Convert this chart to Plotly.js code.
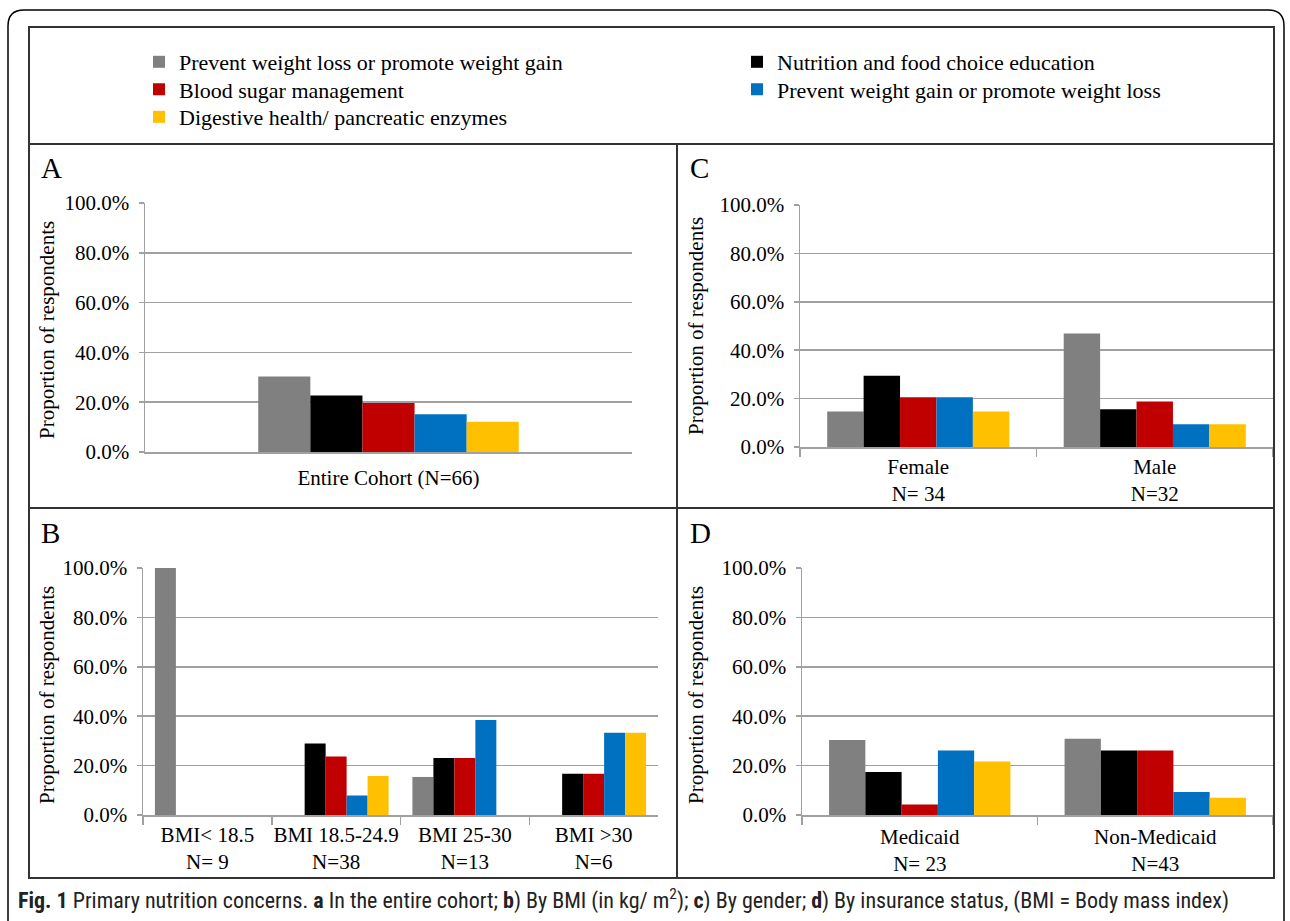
<!DOCTYPE html>
<html>
<head>
<meta charset="utf-8">
<script src="https://cdn.plot.ly/plotly-3.0.1.min.js"></script>
<style>
  html, body { margin: 0; padding: 0; background: #fff; }
  #chart { width: 1290px; height: 921px; }
</style>
</head>
<body>
<div id="chart"></div>
<script>
// ---------------- DATA ----------------
const seriesNames = [
  "Prevent weight loss or promote weight gain",
  "Nutrition and food choice education",
  "Blood sugar management",
  "Prevent weight gain or promote weight loss",
  "Digestive health/ pancreatic enzymes"
];
const seriesColors = ["#808080", "#000000", "#C00000", "#0070C0", "#FFC000"];

// Panel A: entire cohort
const catsA = ["Entire Cohort (N=66)"];
const weightGainA = [30.3];
const nutritionA  = [22.7];
const bloodSugarA = [19.7];
const weightLossA = [15.2];
const digestiveA  = [12.1];

// Panel B: by BMI
const catsB = ["BMI< 18.5<br>N= 9", "BMI 18.5-24.9<br>N=38", "BMI 25-30<br>N=13", "BMI >30<br>N=6"];
const weightGainB = [100, 0, 15.4, 0];
const nutritionB  = [0, 28.9, 23.1, 16.7];
const bloodSugarB = [0, 23.7, 23.1, 16.7];
const weightLossB = [0, 7.9, 38.5, 33.3];
const digestiveB  = [0, 15.8, 0, 33.3];

// Panel C: by gender
const catsC = ["Female<br>N= 34", "Male<br>N=32"];
const weightGainC = [14.7, 46.9];
const nutritionC  = [29.4, 15.6];
const bloodSugarC = [20.6, 18.8];
const weightLossC = [20.6, 9.4];
const digestiveC  = [14.7, 9.4];

// Panel D: by insurance status
const catsD = ["Medicaid<br>N= 23", "Non-Medicaid<br>N=43"];
const weightGainD = [30.4, 30.9];
const nutritionD  = [17.4, 26.1];
const bloodSugarD = [4.3, 26.1];
const weightLossD = [26.1, 9.3];
const digestiveD  = [21.7, 7.0];

const yTickVals = [0, 20, 40, 60, 80, 100];
const yTitle = "Proportion of respondents";

// ---------------- LAYOUT HELPERS ----------------
const W = 1290, H = 921;
const fx = v => v / W;
const fy = v => 1 - v / H;
const SERIF = '"Liberation Serif", "Times New Roman", serif';

// one legend box per legend entry (two-column legend of the reference)
const legendIds = ["legend", "legend2", "legend3", "legend4", "legend5"];
const legendPos = [[139, 62], [737, 62], [139, 89.5], [737, 89.5], [139, 117]];

const panels = [
  { xa: "x",  ya: "y",  cats: catsA, vals: [weightGainA, nutritionA, bloodSugarA, weightLossA, digestiveA],
    dom: [145, 632], ydom: [452, 203], barW: 0.107, ticks: "", stand: 6 },
  { xa: "x2", ya: "y2", cats: catsC, vals: [weightGainC, nutritionC, bloodSugarC, weightLossC, digestiveC],
    dom: [800, 1273], ydom: [447, 205], barW: 0.154, ticks: "outside", stand: 0 },
  { xa: "x3", ya: "y3", cats: catsB, vals: [weightGainB, nutritionB, bloodSugarB, weightLossB, digestiveB],
    dom: [143, 658], ydom: [815, 568], barW: 0.163, ticks: "outside", stand: 0 },
  { xa: "x4", ya: "y4", cats: catsD, vals: [weightGainD, nutritionD, bloodSugarD, weightLossD, digestiveD],
    dom: [802, 1273], ydom: [815, 568], barW: 0.154, ticks: "outside", stand: 2 }
];

const traces = [];
panels.forEach((p, pi) => {
  p.vals.forEach((arr, si) => {
    traces.push({
      type: "bar",
      x: p.cats,
      y: arr,
      xaxis: p.xa,
      yaxis: p.ya,
      name: seriesNames[si],
      legend: legendIds[si],
      showlegend: pi === 0,
      marker: { color: seriesColors[si], line: { width: 0 } },
      width: p.barW,
      offset: -2.5 * p.barW + si * p.barW,
      hovertemplate: "%{y:.1f}%<extra>" + seriesNames[si] + "</extra>"
    });
  });
});

const layout = {
  width: W, height: H,
  margin: { l: 0, r: 0, t: 0, b: 0 },
  paper_bgcolor: "#ffffff",
  plot_bgcolor: "rgba(0,0,0,0)",
  barmode: "overlay",
  font: { family: SERIF, size: 21, color: "#000" },
  showlegend: true,
  annotations: [],
  shapes: []
};

legendIds.forEach((id, i) => {
  layout[id] = {
    orientation: "v",
    x: fx(legendPos[i][0]), xanchor: "left",
    y: fy(legendPos[i][1]), yanchor: "middle",
    font: { family: SERIF, size: 22, color: "#000" },
    bgcolor: "rgba(0,0,0,0)",
    borderwidth: 0,
    itemclick: false, itemdoubleclick: false
  };
});

panels.forEach((p) => {
  const suffix = p.xa === "x" ? "" : p.xa.slice(1);
  layout["xaxis" + suffix] = {
    domain: [fx(p.dom[0]), fx(p.dom[1])],
    anchor: p.ya,
    type: "category",
    range: [-0.5, p.cats.length - 0.5],
    showgrid: false,
    showline: true, linecolor: "#a0a0a0", linewidth: 1.5,
    ticks: p.ticks, tickson: "boundaries", ticklen: 8, tickcolor: "#a0a0a0", tickwidth: 1.5,
    tickangle: 0,
    ticklabelstandoff: p.stand,
    tickfont: { family: SERIF, size: 21, color: "#000" },
    fixedrange: true, zeroline: false
  };
  layout["yaxis" + suffix] = {
    domain: [fy(p.ydom[0]), fy(p.ydom[1])],
    anchor: p.xa,
    range: [0, 100],
    tickvals: yTickVals,
    ticktext: yTickVals.map(v => v.toFixed(1) + "%"),
    showgrid: true, gridcolor: "#a0a0a0", gridwidth: 1.5,
    showline: true, linecolor: "#a0a0a0", linewidth: 1.5,
    ticks: "outside", ticklen: 5, tickcolor: "#a0a0a0", tickwidth: 1.5,
    ticklabelstandoff: 5,
    tickfont: { family: SERIF, size: 21, color: "#000" },
    fixedrange: true, zeroline: false
  };
});

// y-axis titles
[[47, 330], [696, 326], [47, 695], [696, 695]].forEach(([x, y]) => {
  layout.annotations.push({
    xref: "paper", yref: "paper", x: fx(x), y: fy(y),
    text: yTitle, textangle: -90, showarrow: false,
    xanchor: "center", yanchor: "middle",
    font: { family: SERIF, size: 21, color: "#000" }
  });
});

// panel letters
[["A", 39, 168], ["C", 688, 168], ["B", 39, 533], ["D", 688, 533]].forEach(([t, x, y]) => {
  layout.annotations.push({
    xref: "paper", yref: "paper", x: fx(x), y: fy(y),
    text: t, showarrow: false, xanchor: "left", yanchor: "middle",
    font: { family: SERIF, size: 29, color: "#000" }
  });
});

// caption
layout.annotations.push({
  xref: "paper", yref: "paper", x: fx(16), y: fy(899),
  xanchor: "left", yanchor: "middle", showarrow: false,
  text: "<b>Fig. 1</b> Primary nutrition concerns. <b>a</b> In the entire cohort; <b>b</b>) By BMI (in kg/ m<sup>2</sup>); <b>c</b>) By gender; <b>d</b>) By insurance status, (BMI = Body mass index)",
  font: { family: '"Liberation Sans Narrow", "Roboto Condensed", "DejaVu Sans Condensed", Roboto, sans-serif', size: 22, color: "#222" }
});

// frame: outer rounded border
const r = 16, L = 8, T = 10, R = 1284, B = 940;
layout.shapes.push({
  type: "path", xref: "paper", yref: "paper", layer: "above",
  path: `M ${fx(L)},${fy(B)} L ${fx(L)},${fy(T + r)} Q ${fx(L)},${fy(T)} ${fx(L + r)},${fy(T)} L ${fx(R - r)},${fy(T)} Q ${fx(R)},${fy(T)} ${fx(R)},${fy(T + r)} L ${fx(R)},${fy(B)}`,
  line: { color: "#000", width: 1.5 }
});
// inner box and dividers
layout.shapes.push({ type: "rect", xref: "paper", yref: "paper", x0: fx(29), x1: fx(1274), y0: fy(878), y1: fy(27), line: { color: "#333", width: 2 } });
layout.shapes.push({ type: "line", xref: "paper", yref: "paper", x0: fx(29), x1: fx(1274), y0: fy(144), y1: fy(144), line: { color: "#333", width: 2 } });
layout.shapes.push({ type: "line", xref: "paper", yref: "paper", x0: fx(29), x1: fx(1274), y0: fy(508), y1: fy(508), line: { color: "#333", width: 2 } });
layout.shapes.push({ type: "line", xref: "paper", yref: "paper", x0: fx(677), x1: fx(677), y0: fy(144), y1: fy(878), line: { color: "#333", width: 2 } });

Plotly.newPlot("chart", traces, layout, { staticPlot: true, displayModeBar: false });
</script>
</body>
</html>
